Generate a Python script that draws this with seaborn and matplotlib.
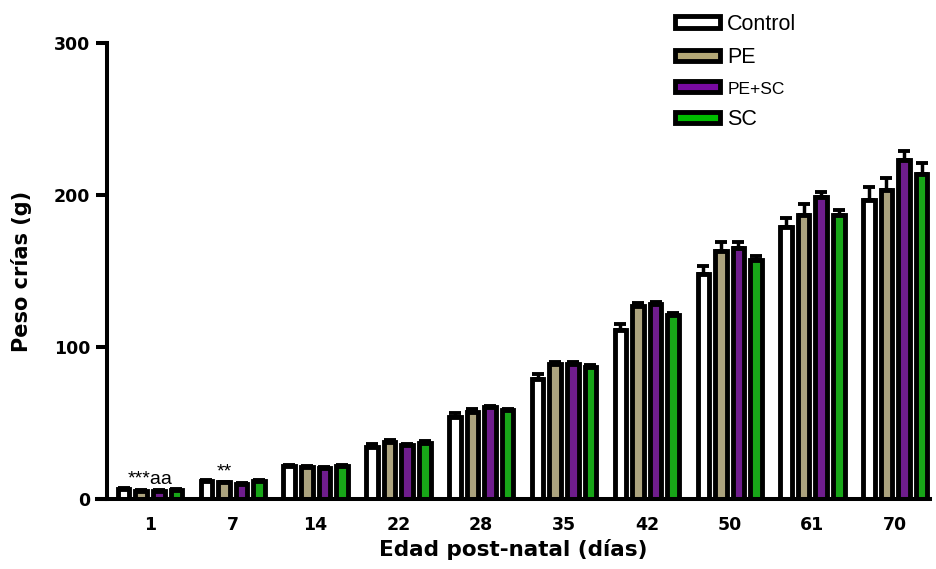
import numpy as np
import pandas as pd
import matplotlib
matplotlib.use('Agg')
import matplotlib.pyplot as plt
import seaborn as sns
from matplotlib.patches import Patch

sns.set_style('ticks', rc={'text.color': 'black', 'axes.labelcolor': 'black',
                           'xtick.color': 'black', 'ytick.color': 'black',
                           'axes.edgecolor': 'black'})
plt.rcParams['font.family'] = ['Liberation Sans', 'DejaVu Sans']

# datos
dias = ['1', '7', '14', '22', '28', '35', '42', '50', '61', '70']
grupos = ['Control', 'PE', 'PE+SC', 'SC']

control = [6.5, 12, 21.5, 34.5, 54, 79, 111, 148, 179, 197]
pe = [5.5, 11, 21, 37.5, 57.5, 89, 127, 163, 187, 203]
pe_sc = [5.3, 10, 20.5, 35.5, 60.5, 89, 128, 165, 199, 223]
sc = [6, 12, 21.5, 37, 58.5, 87, 121, 157, 187, 214]

control_err = [0.5, 0.5, 0.8, 1.5, 2.5, 3.5, 4, 5.5, 6, 8]
pe_err = [0.4, 0.5, 0.6, 1, 1.5, 1.2, 2, 6, 7, 8]
pe_sc_err = [0.4, 0.4, 0.6, 1, 1, 1.2, 1.5, 4, 3, 6]
sc_err = [0.4, 0.5, 0.6, 1, 1, 1, 1.5, 3, 3, 7]

colores = {'Control': '#ffffff', 'PE': '#b4a876', 'PE+SC': '#780aa0', 'SC': '#00be00'}

medias = [control, pe, pe_sc, sc]
errores = [control_err, pe_err, pe_sc_err, sc_err]

df = pd.DataFrame({
    'dia': dias * 4,
    'grupo': np.repeat(grupos, len(dias)),
    'peso': np.concatenate(medias),
})

fig = plt.figure(figsize=(9.36, 5.69), dpi=100)
ax = fig.add_axes([97 / 936, 70 / 569, 833 / 936, 456 / 569])

sns.barplot(data=df, x='dia', y='peso', hue='grupo', hue_order=grupos,
            palette=colores, edgecolor='black', linewidth=3.5,
            width=0.85, gap=0.35, errorbar=None, legend=False, ax=ax)

# barras de error (solo hacia arriba)
for cont, err in zip(ax.containers, errores):
    xs = [b.get_x() + b.get_width() / 2 for b in cont]
    hs = [b.get_height() for b in cont]
    ax.errorbar(xs, hs, yerr=[np.zeros(len(err)), err], fmt='none',
                ecolor='black', elinewidth=2.5, capsize=4, capthick=2.8,
                zorder=1)

# anotaciones de significancia
pe_bars = ax.containers[1]
pesc_bars = ax.containers[2]
x1 = (pe_bars[0].get_x() + pesc_bars[0].get_x() + pesc_bars[0].get_width()) / 2
ax.text(x1, 7.5, '***aa', ha='center', va='bottom', fontsize=14)
x7 = pe_bars[1].get_x() + pe_bars[1].get_width() / 2
ax.text(x7, 12.5, '**', ha='center', va='bottom', fontsize=14)

ax.set_ylim(0, 300)
ax.set_xlim(-0.64, 9.42)
ax.set_yticks([0, 100, 200, 300])
ax.spines['left'].set_position(('axes', 10 / 833))
sns.despine(ax=ax)
for s in ['left', 'bottom']:
    ax.spines[s].set_linewidth(2.9)
ax.tick_params(axis='y', length=8, width=2.9, pad=4)
ax.tick_params(axis='x', length=0, pad=12)
for lab in ax.get_xticklabels() + ax.get_yticklabels():
    lab.set_fontweight('bold')
    lab.set_family('DejaVu Sans')
    lab.set_fontsize(12.5)

ax.set_xlabel('Edad post-natal (días)', fontsize=15.5, fontweight='bold',
              family='DejaVu Sans', labelpad=4)
ax.set_ylabel('Peso crías (g)', fontsize=15, fontweight='bold',
              family='DejaVu Sans', labelpad=16)

handles = [Patch(facecolor=colores[g], edgecolor='black', linewidth=3.5) for g in grupos]
leg = fig.legend(handles, grupos, loc='upper left', bbox_to_anchor=(666 / 936, 1 - 5 / 569),
                 frameon=False, fontsize=15.5, handlelength=2.1, handleheight=0.42,
                 handletextpad=0.35, labelspacing=0.58, borderaxespad=0)
leg.get_texts()[2].set_fontsize(12.5)

fig.savefig('out.png', dpi=100)
